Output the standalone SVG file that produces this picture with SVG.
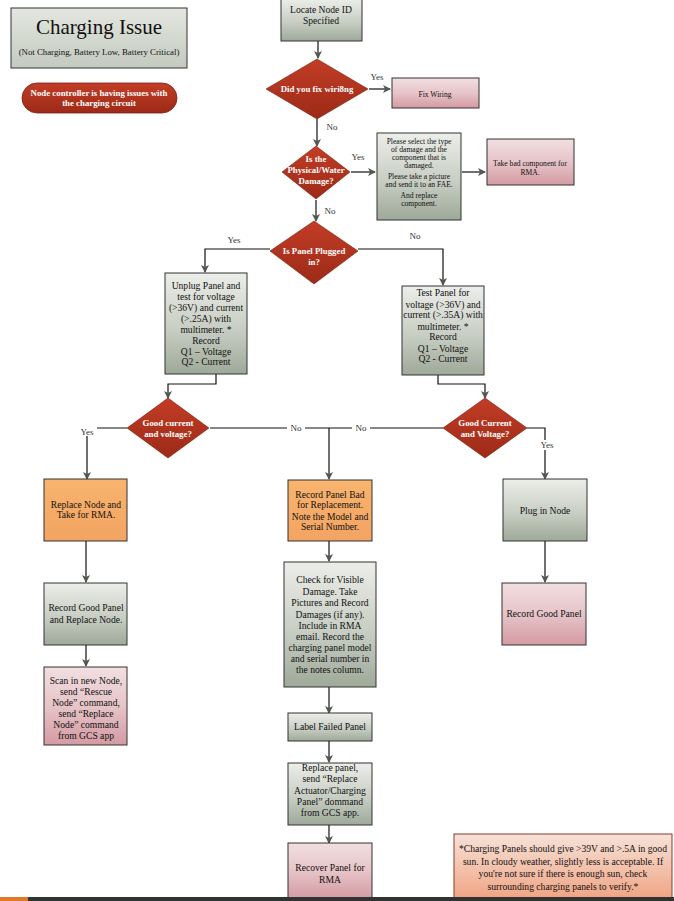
<svg xmlns="http://www.w3.org/2000/svg" width="674" height="901" viewBox="0 0 674 901" font-family="'Liberation Serif', 'DejaVu Serif', serif">
<style>
text{font-family:'Liberation Serif','DejaVu Serif',serif;fill:#111;text-anchor:middle}
.t{font-size:9.6px}
.s{font-size:7.6px}
.w{fill:#fff;font-weight:bold;font-size:8.8px}
.lbl{font-size:9px;fill:#333}
.box{stroke:#333;stroke-width:1}
.g{fill:url(#gray)}
.p{fill:url(#pink)}
.o{fill:url(#orange)}
.d{fill:url(#red);stroke:#7a1f10;stroke-width:0.6}
.c{fill:none;stroke:#111;stroke-width:1.2}
.a{marker-end:url(#ah)}
</style>
<defs>
<linearGradient id="gray" x1="0" y1="0" x2="0" y2="1"><stop offset="0" stop-color="#eceee9"/><stop offset="0.55" stop-color="#c8cec4"/><stop offset="1" stop-color="#9ea999"/></linearGradient>
<linearGradient id="pink" x1="0" y1="0" x2="0" y2="1"><stop offset="0" stop-color="#f1dfe1"/><stop offset="0.5" stop-color="#e6c4c8"/><stop offset="1" stop-color="#d49aa2"/></linearGradient>
<linearGradient id="orange" x1="0" y1="0" x2="0" y2="1"><stop offset="0" stop-color="#f8b46e"/><stop offset="1" stop-color="#f3a462"/></linearGradient>
<linearGradient id="red" x1="0" y1="0" x2="0" y2="1"><stop offset="0" stop-color="#c23d26"/><stop offset="1" stop-color="#9c2a17"/></linearGradient>
<linearGradient id="peach" x1="0" y1="0" x2="0" y2="1"><stop offset="0" stop-color="#f6e2d8"/><stop offset="1" stop-color="#f0a585"/></linearGradient>
<linearGradient id="titleg" x1="0" y1="0" x2="0" y2="1"><stop offset="0" stop-color="#e4e7e0"/><stop offset="1" stop-color="#c3cabf"/></linearGradient>
<marker id="ah" viewBox="0 0 8 8" refX="7" refY="4" markerWidth="8" markerHeight="8" markerUnits="userSpaceOnUse" orient="auto"><path d="M0,0 L8,4 L0,8 L2,4 z" fill="#505a4c"/></marker>
</defs>
<rect width="674" height="901" fill="#fff"/>

<g id="connectors">
<path class="c a" d="M318,41 V58"/>
<path class="c a" d="M369,89 H390"/>
<path class="c a" d="M317,119 V146"/>
<path class="c a" d="M351,172 H375"/>
<path class="c a" d="M462,172 H485"/>
<path class="c a" d="M316,200 V221"/>
<path class="c a" d="M270,249 H205 V272"/>
<path class="c a" d="M358,249 H443 V285"/>
<path class="c a" d="M216,374 V384 H168 V398"/>
<path class="c a" d="M438,375 V384 H485 V398"/>
<path class="c a" d="M127,428 H87 V479"/>
<path class="c" d="M210,428 H443"/>
<path class="c a" d="M329,428 V479"/>
<path class="c a" d="M527,428 H545 V479"/>
<path class="c a" d="M86,541 V582"/>
<path class="c a" d="M86,645 V666"/>
<path class="c a" d="M329,541 V561"/>
<path class="c a" d="M329,687 V713"/>
<path class="c a" d="M329,741 V762"/>
<path class="c a" d="M329,825 V843"/>
<path class="c a" d="M545,541 V582"/>
<text class="lbl" x="377" y="80">Yes</text>
<text class="lbl" x="332" y="130">No</text>
<text class="lbl" x="358" y="160">Yes</text>
<text class="lbl" x="330" y="214">No</text>
<text class="lbl" x="234" y="243">Yes</text>
<text class="lbl" x="415" y="239">No</text>
<rect x="77" y="426" width="20" height="10" fill="#fff"/>
<text class="lbl" x="87" y="435">Yes</text>
<rect x="287" y="424" width="18" height="9" fill="#fff"/>
<text class="lbl" x="296" y="431">No</text>
<rect x="352" y="424" width="18" height="9" fill="#fff"/>
<text class="lbl" x="361" y="431">No</text>
<rect x="537" y="440" width="20" height="10" fill="#fff"/>
<text class="lbl" x="547" y="448">Yes</text>
</g>

<g id="title">
<rect x="11" y="8" width="176" height="60" fill="url(#titleg)" stroke="#333" stroke-width="1"/>
<text x="99" y="34" style="font-size:21px">Charging Issue</text>
<text x="99" y="55" style="font-size:8.8px">(Not Charging, Battery Low, Battery Critical)</text>
</g>

<g id="node-controller">
<rect x="22" y="83" width="155" height="30" rx="15" fill="url(#red)" stroke="#7a1f10" stroke-width="0.8"/>
<text class="w" x="99" y="96">Node controller is having issues with</text>
<text class="w" x="99" y="106">the charging circuit</text>
</g>

<g id="locate-node">
<rect class="box g" x="281" y="-1" width="81" height="42"/>
<text class="t" x="321" y="13">Locate Node ID</text>
<text class="t" x="321" y="24">Specified</text>
</g>

<g id="did-you-fix-wiring">
<polygon class="d" points="317,59 368,89 317,119 266,89"/>
<text class="w" x="317" y="92">Did you fix wiri8ng</text>
</g>

<g id="fix-wiring">
<rect class="box p" x="392" y="78" width="87" height="30"/>
<text class="s" x="435" y="97">Fix Wiring</text>
</g>

<g id="physical-damage">
<polygon class="d" points="316,146 350,172 316,199 282,172"/>
<text class="w" x="316" y="162">Is the</text>
<text class="w" x="316" y="173">Physical/Water</text>
<text class="w" x="316" y="184">Damage?</text>
</g>

<g id="select-damage">
<rect class="box g" x="377" y="133" width="84" height="87"/>
<text class="s" x="419" y="144">Please select the type</text>
<text class="s" x="419" y="152">of damage and the</text>
<text class="s" x="419" y="160">component that is</text>
<text class="s" x="419" y="168">damaged.</text>
<text class="s" x="419" y="179">Please take a picture</text>
<text class="s" x="419" y="187">and send it to an FAE.</text>
<text class="s" x="419" y="198">And replace</text>
<text class="s" x="419" y="206">component.</text>
</g>

<g id="take-bad-component">
<rect class="box p" x="487" y="139" width="87" height="46"/>
<text class="s" x="530" y="166">Take bad component for</text>
<text class="s" x="530" y="175">RMA.</text>
</g>

<g id="panel-plugged">
<polygon class="d" points="314,221 358,251 314,284 270,251"/>
<text class="w" x="314" y="254">Is Panel Plugged</text>
<text class="w" x="314" y="265">in?</text>
</g>

<g id="unplug-panel">
<rect class="box g" x="165" y="273" width="82" height="101"/>
<text class="t" x="206" y="289">Unplug Panel and</text>
<text class="t" x="206" y="300">test  for voltage</text>
<text class="t" x="206" y="311">(&gt;36V) and  current</text>
<text class="t" x="206" y="322">(&gt;.25A) with</text>
<text class="t" x="206" y="333">multimeter. *</text>
<text class="t" x="206" y="344">Record</text>
<text class="t" x="206" y="355">Q1 – Voltage</text>
<text class="t" x="206" y="365">Q2 - Current</text>
</g>

<g id="test-panel">
<rect class="box g" x="402" y="286" width="82" height="89"/>
<text class="t" x="443" y="296">Test Panel for</text>
<text class="t" x="443" y="308">voltage (&gt;36V) and</text>
<text class="t" x="443" y="317.5">current (&gt;.35A) with</text>
<text class="t" x="443" y="330">multimeter. *</text>
<text class="t" x="443" y="339.5">Record</text>
<text class="t" x="443" y="352">Q1 – Voltage</text>
<text class="t" x="443" y="361.5">Q2 - Current</text>
</g>

<g id="good-current-left">
<polygon class="d" points="168,398 209,428 168,458 127,428"/>
<text class="w" x="168" y="426">Good current</text>
<text class="w" x="168" y="437">and  voltage?</text>
</g>

<g id="good-current-right">
<polygon class="d" points="485,398 527,428 485,458 443,428"/>
<text class="w" x="485" y="426">Good Current</text>
<text class="w" x="485" y="437">and  Voltage?</text>
</g>

<g id="replace-node">
<rect class="box o" x="44" y="479" width="83" height="62"/>
<text class="t" x="86" y="508">Replace Node and</text>
<text class="t" x="86" y="518">Take for RMA.</text>
</g>

<g id="record-good-replace">
<rect class="box g" x="44" y="583" width="83" height="62"/>
<text class="t" x="86" y="611">Record Good Panel</text>
<text class="t" x="86" y="623">and Replace Node.</text>
</g>

<g id="scan-new-node">
<rect class="box p" x="44" y="667" width="83" height="78"/>
<text class="t" x="86" y="684">Scan  in new Node,</text>
<text class="t" x="86" y="695">send  “Rescue</text>
<text class="t" x="86" y="706">Node” command,</text>
<text class="t" x="86" y="717">send  “Replace</text>
<text class="t" x="86" y="728">Node”  command</text>
<text class="t" x="86" y="739">from GCS app</text>
</g>

<g id="record-panel-bad">
<rect class="box o" x="288" y="480" width="84" height="61"/>
<text class="t" x="330" y="498">Record Panel Bad</text>
<text class="t" x="330" y="508">for Replacement.</text>
<text class="t" x="330" y="520">Note the Model and</text>
<text class="t" x="330" y="530">Serial Number.</text>
</g>

<g id="check-visible-damage">
<rect class="box g" x="284" y="562" width="92" height="125"/>
<text class="t" x="330" y="583">Check for Visible</text>
<text class="t" x="330" y="595">Damage.  Take</text>
<text class="t" x="330" y="606">Pictures and  Record</text>
<text class="t" x="330" y="618">Damages  (if any).</text>
<text class="t" x="330" y="629">Include in RMA</text>
<text class="t" x="330" y="640">email. Record the</text>
<text class="t" x="330" y="651">charging panel model</text>
<text class="t" x="330" y="662">and serial number  in</text>
<text class="t" x="330" y="673">the notes  column.</text>
</g>

<g id="label-failed-panel">
<rect class="box g" x="288" y="713" width="84" height="28"/>
<text class="t" x="330" y="730">Label Failed Panel</text>
</g>

<g id="replace-panel">
<rect class="box g" x="288" y="763" width="84" height="62"/>
<text class="t" x="330" y="771">Replace panel,</text>
<text class="t" x="330" y="782">send  “Replace</text>
<text class="t" x="330" y="794">Actuator/Charging</text>
<text class="t" x="330" y="805">Panel” dommand</text>
<text class="t" x="330" y="816">from GCS app.</text>
</g>

<g id="recover-panel">
<rect class="box p" x="288" y="843" width="84" height="56"/>
<text class="t" x="330" y="871">Recover Panel for</text>
<text class="t" x="330" y="883">RMA</text>
</g>

<g id="plug-in-node">
<rect class="box g" x="503" y="479" width="84" height="62"/>
<text class="t" x="545" y="514">Plug in Node</text>
</g>

<g id="record-good-panel">
<rect class="box p" x="502" y="583" width="84" height="62"/>
<text class="t" x="544" y="617">Record Good Panel</text>
</g>

<g id="note">
<rect x="454" y="834" width="218" height="64" fill="url(#peach)" stroke="#8b3a2a" stroke-width="1"/>
<text class="t" x="563" y="852">*Charging Panels should give &gt;39V and &gt;.5A in good</text>
<text class="t" x="563" y="865">sun. In cloudy weather,  slightly less is acceptable. If</text>
<text class="t" x="563" y="877">you're not sure  if there  is enough  sun,  check</text>
<text class="t" x="563" y="890">surrounding charging panels to verify.*</text>
</g>

<rect x="0" y="897" width="674" height="4" fill="#2f3430"/>
<rect x="0" y="897" width="28" height="4" fill="#e07a2a"/>
</svg>
